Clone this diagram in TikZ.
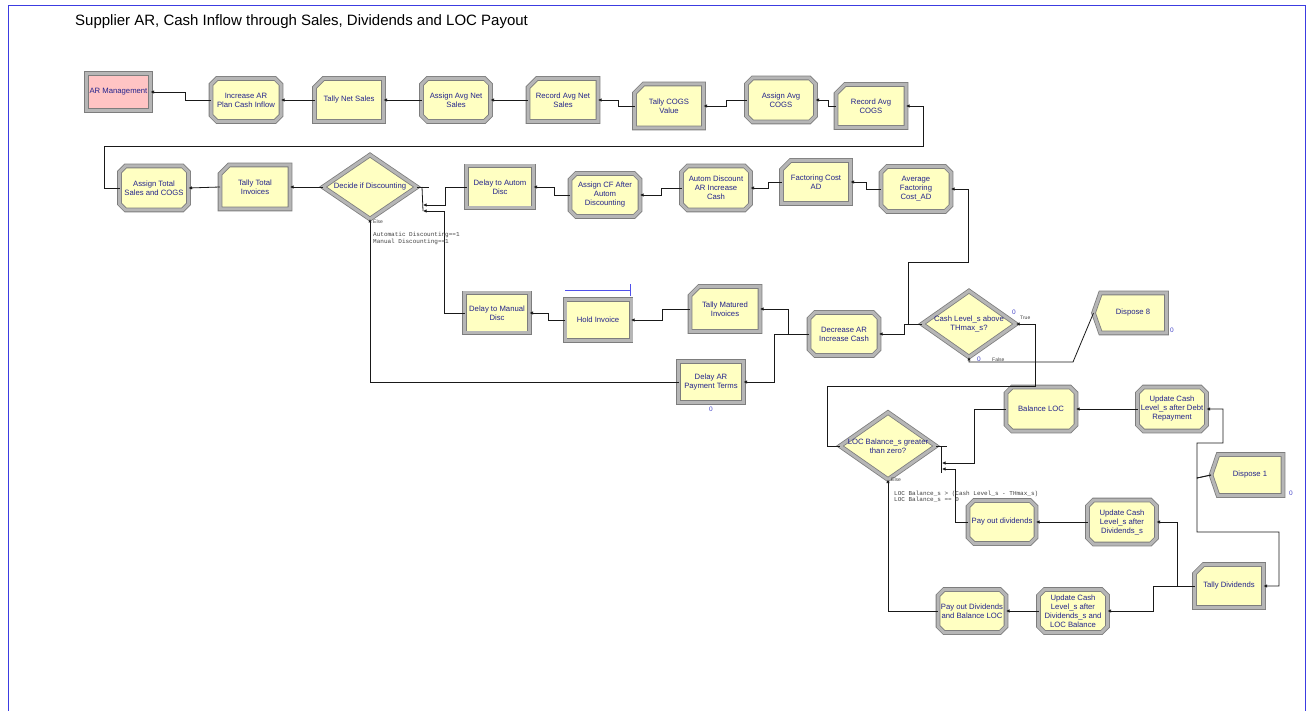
\documentclass[tikz,border=0pt]{standalone}
\usepackage{fontspec}
\setmainfont{Liberation Sans}
\newfontfamily\monof{Liberation Mono}
\usetikzlibrary{arrows.meta}
\definecolor{arenaY}{RGB}{255,255,194}
\definecolor{arenaL}{RGB}{182,182,182}
\definecolor{arenaD}{RGB}{125,125,125}
\definecolor{arenaP}{RGB}{255,196,196}
\definecolor{navy}{RGB}{36,36,140}
\definecolor{connc}{RGB}{25,25,25}
\definecolor{zeroblue}{RGB}{70,70,200}
\definecolor{framec}{RGB}{60,60,225}
\definecolor{holdc}{RGB}{80,80,235}
\tikzset{
  box/.style={rectangle,inner sep=0pt,outer sep=0pt,draw=none},
  bevel/.style={preaction={fill=arenaY},draw=arenaD,line width=4.6pt,line join=miter,
    postaction={draw=arenaL,line width=3pt}},
  pinkbevel/.style={preaction={fill=arenaP},draw=arenaD,line width=4.6pt,
    postaction={draw=arenaL,line width=3pt}},
  txt/.style={inner sep=0pt,align=center,text=navy,font=\fontsize{7.7}{9}\selectfont},
  arr/.style={draw=connc,line width=0.8pt,-{Latex[length=3.5pt,width=3.5pt]}},
  ln/.style={draw=connc,line width=0.8pt},
  tiny/.style={inner sep=0pt,anchor=west,text=black!75,font=\fontsize{5}{6}\selectfont},
  cond/.style={inner sep=0pt,anchor=west,text=black!75,font=\monof\fontsize{6}{7}\selectfont},
  zero/.style={inner sep=0pt,text=zeroblue,font=\fontsize{6.5}{7}\selectfont},
  holdln/.style={draw=holdc,line width=0.8pt}
}
\newcommand\shapebox[5]{\node[box,minimum width={#4-3},minimum height={#5-3}] (#1) at (#2,#3) {};}
\newcommand\AssignM[6]{\shapebox{#1}{#2}{#3}{#4}{#5}
  \draw[bevel] ([xshift=6]#1.north west) -- ([xshift=-6]#1.north east) -- ([yshift=-6]#1.north east)
    -- ([yshift=6]#1.south east) -- ([xshift=-6]#1.south east) -- ([xshift=6]#1.south west)
    -- ([yshift=6]#1.south west) -- ([yshift=-6]#1.north west) -- cycle;
  \node[txt] (#1-t) at (#1) {#6};}
\newcommand\RecordM[6]{\shapebox{#1}{#2}{#3}{#4}{#5}
  \draw[bevel] ([xshift=9]#1.north west) -- (#1.north east) -- (#1.south east)
    -- (#1.south west) -- ([yshift=-9]#1.north west) -- cycle;
  \node[txt] (#1-t) at (#1) {#6};}
\newcommand\ProcessM[6]{\shapebox{#1}{#2}{#3}{#4}{#5}
  \draw[bevel] (#1.north west) rectangle (#1.south east);
  \node[txt] (#1-t) at (#1) {#6};}
\newcommand\DecideM[6]{\shapebox{#1}{#2}{#3}{#4}{#5}
  \draw[bevel] (#1.north) -- (#1.east) -- (#1.south) -- (#1.west) -- cycle;
  \node[txt] (#1-t) at (#1) {#6};}
\newcommand\DisposeM[6]{\shapebox{#1}{#2}{#3}{#4}{#5}
  \draw[bevel] ([xshift=7]#1.north west) -- (#1.north east) -- (#1.south east)
    -- ([xshift=7]#1.south west) -- (#1.west) -- cycle;
  \node[txt] (#1-t) at ([xshift=3]#1.center) {#6};}
\begin{document}
\begin{tikzpicture}[x=1pt,y=-1pt]
\useasboundingbox (0,0) rectangle (1307,711);
\draw[framec,line width=0.9pt] (8,711) -- (8,5) -- (1305,5) -- (1305,711);
\node[anchor=west,inner sep=0pt,font=\fontsize{15}{18}\selectfont] (title) at (75,22)
  {Supplier AR, Cash Inflow through Sales, Dividends and LOC Payout};

% ---- create
\shapebox{arm}{118.5}{92}{67}{40}
\draw[pinkbevel] (arm.north west) rectangle (arm.south east);
\node[txt] (arm-t) at (arm) {AR Management};

% ---- row 1
\AssignM{inc}{246}{100}{73}{46}{Increase AR\\Plan Cash Inflow}
\RecordM{tns}{349}{100}{72}{46}{Tally Net Sales}
\AssignM{aans}{456}{100}{72}{46}{Assign Avg Net\\Sales}
\RecordM{rans}{563}{100}{73}{46}{Record Avg Net\\Sales}
\RecordM{tcogs}{669}{106}{72}{47}{Tally COGS\\Value}
\AssignM{aacogs}{781}{100}{72}{47}{Assign Avg\\COGS}
\RecordM{racogs}{871}{106}{73}{46}{Record Avg\\COGS}

% ---- row 2
\AssignM{atsc}{154}{188}{72}{47}{Assign Total\\Sales and COGS}
\RecordM{tti}{255}{187}{73}{47}{Tally Total\\Invoices}
\DecideM{dec}{370}{187}{97}{67}{Decide if Discounting}
\ProcessM{dad}{500}{187}{70}{45}{Delay to Autom\\Disc}
\AssignM{acf}{605}{195}{73}{46}{Assign CF After\\Autom\\Discounting}
\AssignM{adar}{716}{188}{72}{47}{Autom Discount\\AR Increase\\Cash}
\RecordM{fcad}{816}{182}{72}{46}{Factoring Cost\\AD}
\AssignM{afcad}{916}{189}{73}{48}{Average\\Factoring\\Cost\_AD}

% ---- row 3
\ProcessM{dmd}{497}{313}{68}{43}{Delay to Manual\\Disc}
\ProcessM{hold}{598}{320}{69}{44}{Hold Invoice}
\RecordM{tmi}{725}{309}{73}{48}{Tally Matured\\Invoices}
\ProcessM{darpt}{711}{382}{68}{44}{Delay AR\\Payment Terms}
\AssignM{decar}{844}{334}{73}{46}{Decrease AR\\Increase Cash}
\DecideM{cash}{969}{324}{97}{69}{Cash Level\_s above\\THmax\_s?}
\DisposeM{disp8}{1130}{313}{76}{43}{Dispose 8}

% ---- lower right
\DecideM{loc}{888}{446}{99}{70}{LOC Balance\_s greater\\than zero?}
\AssignM{bloc}{1041}{409}{73}{47}{Balance LOC}
\AssignM{udebt}{1172}{409}{72}{47}{Update Cash\\Level\_s after Debt\\Repayment}
\DisposeM{disp1}{1247}{475}{75}{44}{Dispose 1}
\AssignM{pod}{1002}{522}{71}{46}{Pay out dividends}
\AssignM{ucd}{1122}{522}{72}{47}{Update Cash\\Level\_s after\\Dividends\_s}
\RecordM{tdiv}{1229}{586}{72}{46}{Tally Dividends}
\AssignM{pdbl}{972}{611}{71}{46}{Pay out Dividends\\and Balance LOC}
\AssignM{ucdl}{1073}{611}{72}{46}{Update Cash\\Level\_s after\\Dividends\_s and\\LOC Balance}

% hold queue line
\draw[holdln] ([yshift=9]hold.north west) -- ([yshift=9,xshift=-1]hold.north east);
\draw[holdln] ([yshift=15,xshift=-1]hold.north east) -- ([yshift=3,xshift=-1]hold.north east);

% ---- connectors row 1
\draw[arr] (inc.west) -- ++(-26,0) |- (arm.east);
\draw[arr] (tns.west) -- (inc.east);
\draw[arr] (aans.west) -- (tns.east);
\draw[arr] (rans.west) -- (aans.east);
\draw[arr] (tcogs.west) -- ++(-16,0) |- (rans.east);
\draw[arr] (aacogs.west) -- ++(-20,0) |- (tcogs.east);
\draw[arr] (racogs.west) -- ++(-8,0) |- (aacogs.east);
\draw[arr] (atsc.west) -- ++(-15,0) |- (923,146) |- (racogs.east);

% ---- connectors row 2
\draw[arr] (tti.west) -- (atsc.east);
\draw[arr] (dec.west) -- (tti.east);
\coordinate (decT1) at (423,205);
\coordinate (decT2) at (423,211);
\draw[ln] (dec.east) -- ++(12,0);
\draw[ln] ([xshift=5]dec.east) -- (decT2);
\draw[arr] (dad.west) -- ++(-21,0) |- (decT1);
\draw[arr] (dmd.west) -- ++(-20,0) |- (decT2);
\draw[arr] (darpt.west) -| (dec.south);
\draw[arr] (acf.west) -- ++(-16,0) |- (dad.east);
\draw[arr] (adar.west) -- ++(-20,0) |- (acf.east);
\draw[arr] (fcad.west) -- ++(-13,0) |- (adar.east);
\draw[arr] (afcad.west) -- ++(-15,0) |- (fcad.east);

% ---- connectors row 3
\draw[arr] (hold.west) -- ++(-17,0) |- (dmd.east);
\draw[arr] (tmi.west) -- ++(-28,0) |- (hold.east);
\draw[arr] (decar.west) -- ++(-21,0) |- (tmi.east);
\draw[arr] (decar.west) -- ++(-35,0) |- (darpt.east);
\draw[arr] (cash.west) -- ++(-14,0) |- (968,262) |- (afcad.east);
\draw[arr] (cash.west) -- ++(-18,0) |- (decar.east);
\draw[arr] (loc.west) -- ++(-13,0) |- (1035,386) |- (cash.east);
\draw[arr] (disp8.west) -- (1073,362) -| (cash.south);

% ---- connectors lower right
\coordinate (locT1) at (942,463);
\coordinate (locT2) at (942,469);
\draw[ln] (loc.east) -- ++(11,0);
\draw[ln] ([xshift=5]loc.east) -- ++(0,27);
\draw[arr] (bloc.west) -- ++(-32,0) |- (locT1);
\draw[arr] (pod.west) -- ++(-13,0) |- (locT2);
\draw[arr] (pdbl.west) -| (loc.south);
\draw[arr] (udebt.west) -- (bloc.east);
\draw[arr] (disp1.west) -- (1197,478) |- (1223,443) |- (udebt.east);
\draw[arr] (disp1.west) -- (1197,478) |- (1279,532) |- (tdiv.east);
\draw[arr] (ucd.west) -- (pod.east);
\draw[arr] (tdiv.west) -- ++(-17,0) |- (ucd.east);
\draw[arr] (tdiv.west) -- ++(-41,0) |- (ucdl.east);
\draw[arr] (ucdl.west) -- (pdbl.east);

% ---- labels
\node[tiny] (l-else1) at (373,222) {Else};
\node[cond] (l-c1) at (373,235) {Automatic Discounting==1};
\node[cond] (l-c2) at (373,242) {Manual Discounting==1};
\node[zero] (z-darpt) at (711,409) {0};
\node[zero] (z-true) at (1014,312) {0};
\node[tiny] (l-true) at (1020,318) {True};
\node[zero] (z-false) at (979,359) {0};
\node[tiny] (l-false) at (992,360) {False};
\node[zero] (z-d8) at (1172,330) {0};
\node[tiny] (l-else2) at (891,480) {Else};
\node[cond] (l-c3) at (894,494) {LOC Balance\_s > (Cash Level\_s - THmax\_s)};
\node[cond] (l-c4) at (894,500) {LOC Balance\_s == 0};
\node[zero] (z-d1) at (1291,493) {0};
\end{tikzpicture}
\end{document}
